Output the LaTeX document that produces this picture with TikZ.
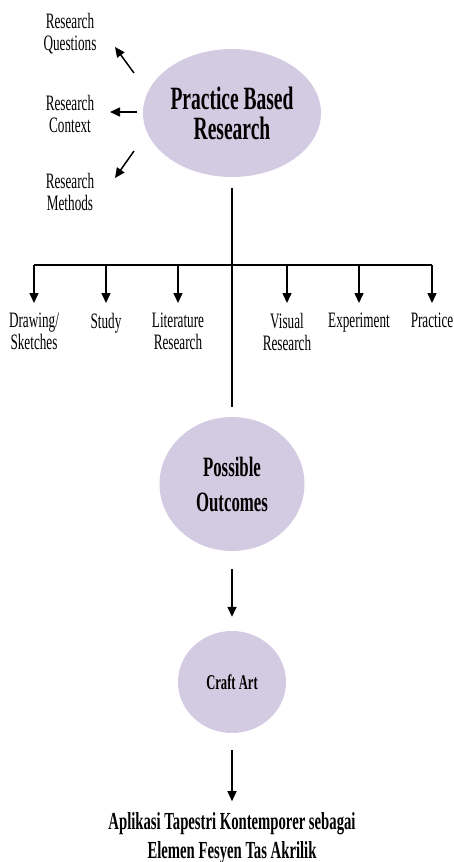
\documentclass[tikz,border=0pt]{standalone}
\usepackage{fontspec}
\setmainfont[FakeStretch=0.6]{Liberation Serif}
\usetikzlibrary{shapes.geometric,arrows.meta}

\definecolor{lavender}{RGB}{211,203,226}

\tikzset{
  blob/.style={ellipse, fill=lavender, inner sep=0pt, align=center},
  lbl/.style={align=center, inner sep=0pt, font=\fontsize{22}{22}\selectfont},
  arr/.style={line width=1.5pt, -{Triangle[length=10pt,width=9pt]}},
  bar/.style={line width=1.5pt}
}

\begin{document}
\begin{tikzpicture}[x=1pt,y=-1pt]
\useasboundingbox (0,0) rectangle (454,862);
\node[blob, minimum width=178, minimum height=128, font=\bfseries\fontsize{32.5}{30}\selectfont] (pbr) at (232,113) {Practice Based\\Research}; % main
\node[lbl] (rq) at (70,34) {Research\\Questions}; % left side
\node[lbl] (rc) at (70,114) {Research\\Context};
\node[lbl] (rm) at (70,192) {Research\\Methods};
\coordinate (rqS) at (134,73); \coordinate (rqE) at (115,47);
\coordinate (rcS) at (137,112); \coordinate (rcE) at (110,112);
\coordinate (rmS) at (134,151); \coordinate (rmE) at (115,178);
\draw[arr] (rqS) -- (rqE); % to questions
\draw[arr] (rcS) -- (rcE); % to context
\draw[arr] (rmS) -- (rmE); % to methods

\node[blob, minimum width=145, minimum height=134, font=\bfseries\fontsize{28}{35}\selectfont] (po) at (232,484) {Possible\\Outcomes};
\draw[bar] ([yshift=-11pt]pbr.south) -- ([yshift=10pt]po.north); % trunk

\coordinate (b1) at (34,265); \coordinate (b2) at (106,265);
\coordinate (b3) at (178,265); \coordinate (b4) at (287,265);
\coordinate (b5) at (359,265); \coordinate (b6) at (432,265);
\draw[bar] (b1) -- (b6); % branch bar
\node[lbl, anchor=north] (l1) at (34,313) {Drawing/\\Sketches};
\node[lbl, anchor=north] (l2) at (106,313) {Study};
\node[lbl, anchor=north] (l3) at (178,313) {Literature\\Research};
\node[lbl, anchor=north] (l4) at (287,313) {Visual\\Research};
\node[lbl, anchor=north] (l5) at (359,313) {Experiment};
\node[lbl, anchor=north] (l6) at (432,313) {Practice};
\draw[arr, shorten >=10pt] (b1) -- (l1.north);
\draw[arr, shorten >=10pt] (b2) -- (l2.north);
\draw[arr, shorten >=10pt] (b3) -- (l3.north);
\draw[arr, shorten >=10pt] (b4) -- (l4.north);
\draw[arr, shorten >=10pt] (b5) -- (l5.north);
\draw[arr, shorten >=10pt] (b6) -- (l6.north);

\node[blob, minimum width=108, minimum height=102, font=\bfseries\fontsize{21}{22}\selectfont] (ca) at (232,682) {Craft Art};
\draw[arr, shorten <=18pt, shorten >=14pt] (po) -- (ca); % outcomes to craft

\node[align=center, inner sep=0pt, font=\bfseries\fontsize{24.5}{29}\selectfont] (fin) at (232,838) {Aplikasi Tapestri Kontemporer sebagai\\Elemen Fesyen Tas Akrilik};
\draw[arr, shorten <=17pt, shorten >=11pt] (ca) -- (fin);
\end{tikzpicture}
\end{document}
